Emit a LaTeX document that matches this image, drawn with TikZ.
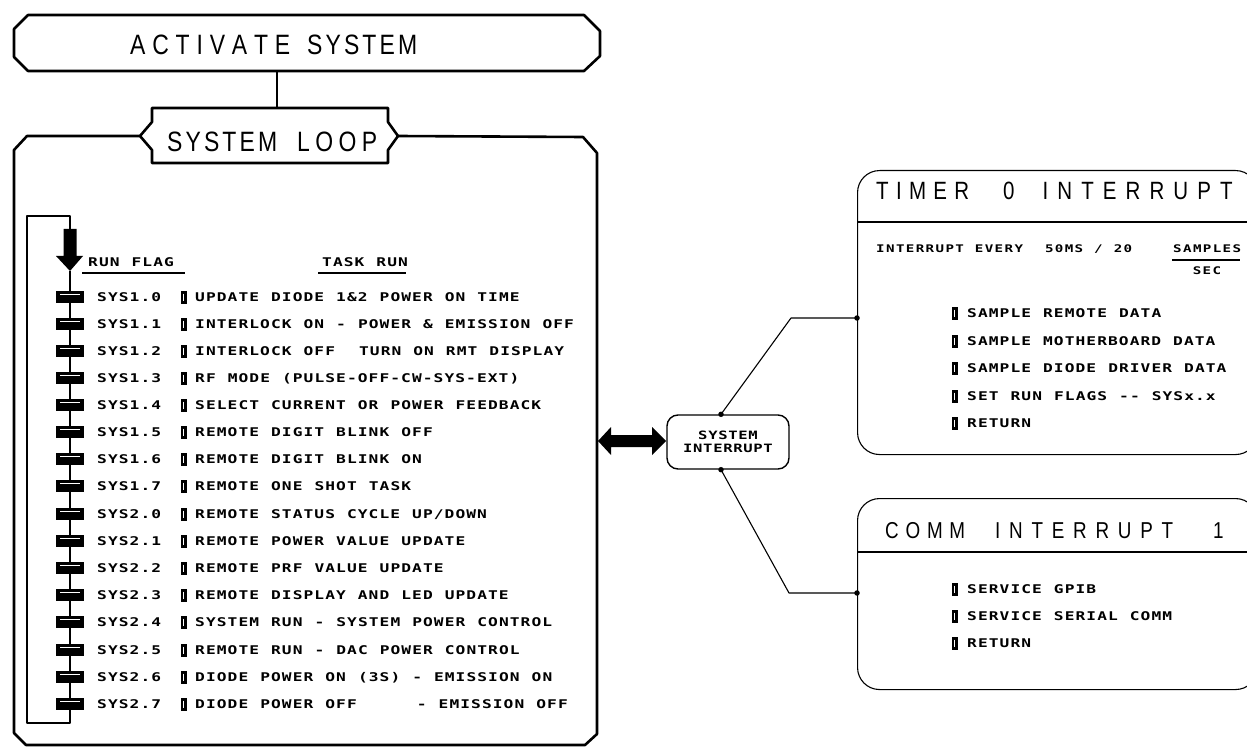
\documentclass[tikz,border=0pt]{standalone}
\usepackage{fontspec}
\usetikzlibrary{calc}
% fixed-pitch plotter lettering and narrow title lettering
\newfontfamily\plotfont{DejaVu Sans Mono}[FakeStretch=1.35,LetterSpace=9,WordSpace=1.11]
\newfontfamily\titlefont{Liberation Sans}[FakeStretch=0.82]

% a word whose letters are spread evenly over a given width
\makeatletter
\def\spr@a#1#2\spr@end{#1\ifx\relax#2\relax\else\hfill\spr@a#2\spr@end\fi}
\newcommand\spreadword[2]{\makebox[#1][s]{\spr@a#2\spr@end}}
\makeatother

\tikzset{
  heavy/.style={line width=2.6pt, line join=round},
  thinline/.style={line width=1.1pt, line join=round},
  flagbox/.style={rectangle, fill=black, minimum width=28pt, minimum height=12pt, inner sep=0pt,
    path picture={\draw[white, line width=0.4pt]
      ([xshift=4pt,yshift=-3pt]path picture bounding box.north west) --
      ([xshift=-4pt,yshift=-3pt]path picture bounding box.north east);}},
  tickbar/.style={rectangle, fill=black, minimum width=6pt, minimum height=13pt, inner sep=0pt,
    path picture={\draw[white, line width=0.5pt]
      ([xshift=-0.6pt,yshift=-3pt]path picture bounding box.north) --
      ([xshift=-0.6pt,yshift=3pt]path picture bounding box.south);}},
  body/.style={inner sep=0pt, anchor=base west, font={\plotfont\bfseries\fontsize{12pt}{14pt}\selectfont}},
  small/.style={inner sep=0pt, anchor=base west, font={\plotfont\bfseries\fontsize{10.5pt}{12pt}\addfontfeatures{LetterSpace=13}\selectfont}},
  title/.style={inner sep=0pt, anchor=base west},
  dot/.style={circle, fill=black, inner sep=0pt, minimum size=5.5pt},
}

% one row of the run-flag table
\newcommand\flagrow[4]{%
  \node[flagbox] (flag#1) at (70,#2) {};
  \node[body] (sys#1) at (97,#2+4.5) {#3};
  \node[tickbar] (tick#1) at (184,#2) {};
  \node[body] (task#1) at (195,#2+4.5) {#4};
}
% one bulleted entry inside an interrupt box
\newcommand\isritem[3]{%
  \node[tickbar] (tick#1) at (955,#2) {};
  \node[body] (item#1) at (967,#2+4.5) {#3};
}

\begin{document}
\begin{tikzpicture}[x=1pt,y=-1pt]
\useasboundingbox[fill=white] (0,0) rectangle (1247,751);

% ---- ACTIVATE SYSTEM terminal ----
\draw[heavy] (28,15) -- (584,15) -- (600,31) -- (600,56) -- (584,71) -- (28,71) -- (14,57) -- (14,29) -- cycle;
\node[title, font={\titlefont\fontsize{28pt}{30pt}\selectfont}] (act) at (130,55)
  {\spreadword{160pt}{ACTIVATE}\hspace{17pt}\spreadword{110pt}{SYSTEM}};
\coordinate (actbottom) at (277,71);

% ---- SYSTEM LOOP header ----
\draw[heavy] (152,108) -- (388,108) -- (388,122) -- (398,136) -- (388,150) -- (388,163)
  -- (152,163) -- (152,150) -- (140,136) -- (152,122) -- cycle;
\node[title, font={\titlefont\fontsize{28pt}{30pt}\selectfont}] (loop) at (167,152)
  {\spreadword{110pt}{SYSTEM}\hspace{20pt}\spreadword{80pt}{LOOP}};
\coordinate (looptop) at (277,108);
\draw[thinline] (actbottom) -- (looptop);

% ---- loop container ----
\draw[heavy] (140,136) -- (27,136) -- (14,150) -- (14,733) -- (26,745) -- (585,745) -- (597,734)
  -- (597,153) -- (583,137) -- (398,136);

% ---- loop-back line and entry arrow ----
\coordinate (arrowtail) at (70,230);
\coordinate (arrowtip) at (70,271);
\coordinate (loopbottom) at (70,723);
\draw[thinline] (arrowtail) -- (70,216) -- (27,216) -- (27,723) -- (loopbottom) -- (arrowtip);
\fill (63.5,229) -- (76.5,229) -- (76.5,256) -- (83,256) -- (arrowtip) -- (56,256) -- (63.5,256) -- cycle;

% ---- table headings ----
\node[body] (runflag) at (88,267) {RUN FLAG};
\draw[line width=1.4pt] (82,273) -- (185,273);
\node[body] (taskrun) at (322,267) {TASK RUN};
\draw[line width=1.4pt] (318,273) -- (406,273);

% ---- run flags and tasks ----
\flagrow{a}{297}{SYS1.0}{UPDATE DIODE 1\&2 POWER ON TIME}
\flagrow{b}{324}{SYS1.1}{INTERLOCK ON - POWER \& EMISSION OFF}
\flagrow{c}{351}{SYS1.2}{INTERLOCK OFF~ TURN ON RMT DISPLAY}
\flagrow{d}{378}{SYS1.3}{RF MODE (PULSE-OFF-CW-SYS-EXT)}
\flagrow{e}{405}{SYS1.4}{SELECT CURRENT OR POWER FEEDBACK}
\flagrow{f}{432}{SYS1.5}{REMOTE DIGIT BLINK OFF}
\flagrow{g}{459}{SYS1.6}{REMOTE DIGIT BLINK ON}
\flagrow{h}{486}{SYS1.7}{REMOTE ONE SHOT TASK}
\flagrow{i}{514}{SYS2.0}{REMOTE STATUS CYCLE UP/DOWN}
\flagrow{j}{541}{SYS2.1}{REMOTE POWER VALUE UPDATE}
\flagrow{k}{568}{SYS2.2}{REMOTE PRF VALUE UPDATE}
\flagrow{l}{595}{SYS2.3}{REMOTE DISPLAY AND LED UPDATE}
\flagrow{m}{622}{SYS2.4}{SYSTEM RUN - SYSTEM POWER CONTROL}
\flagrow{n}{650}{SYS2.5}{REMOTE RUN - DAC POWER CONTROL}
\flagrow{o}{677}{SYS2.6}{DIODE POWER ON (3S) - EMISSION ON}
\flagrow{p}{704}{SYS2.7}{DIODE POWER OFF~~~~~- EMISSION OFF}

% ---- system interrupt ----
\node[draw, line width=1.4pt, rounded corners=11pt, minimum width=122pt, minimum height=54pt,
      align=center, inner sep=0pt, font={\plotfont\bfseries\fontsize{11.5pt}{13.5pt}\addfontfeatures{LetterSpace=6}\selectfont}]
      (sysint) at (728,442) {SYSTEM\\INTERRUPT};
\fill (598,441) -- (611,427) -- (611,435) -- (652,435) -- (652,427) -- (666,441)
  -- (652,455) -- (652,447) -- (611,447) -- (611,455) -- cycle;

% ---- timer 0 interrupt ----
\node[draw, thinline, rounded corners=22pt, minimum width=400pt, minimum height=284pt,
      anchor=north west, inner sep=0pt] (timerbox) at (857,170) {};
\draw[thinline] ([yshift=-52pt]timerbox.north west) -- ([yshift=-52pt]timerbox.north east);
\node[title, font={\titlefont\fontsize{25pt}{28pt}\selectfont}] (timer) at (876,200)
  {\spreadword{93pt}{TIMER}\hspace{34pt}0\hspace{28pt}\spreadword{190pt}{INTERRUPT}};
\node[small] (every) at (876,253) {INTERRUPT EVERY~ 50MS / 20};
\node[small] (samples) at (1173,253) {SAMPLES};
\draw[line width=1.2pt] (1172,260) -- (1240,260);
\node[small, anchor=base] (sec) at (1207,275) {SEC};
\isritem{ta}{313}{SAMPLE REMOTE DATA}
\isritem{tb}{341}{SAMPLE MOTHERBOARD DATA}
\isritem{tc}{368}{SAMPLE DIODE DRIVER DATA}
\isritem{td}{396}{SET RUN FLAGS -{}- SYSx.x}
\isritem{te}{423}{RETURN}

% ---- comm interrupt 1 ----
\node[draw, thinline, rounded corners=22pt, minimum width=400pt, minimum height=191pt,
      anchor=north west, inner sep=0pt] (commbox) at (857,498) {};
\draw[thinline] ([yshift=-54pt]commbox.north west) -- ([yshift=-54pt]commbox.north east);
\node[title, font={\titlefont\fontsize{23pt}{25pt}\selectfont}] (comm) at (885,538)
  {\spreadword{80pt}{COMM}\hspace{30pt}\spreadword{178pt}{INTERRUPT}\hspace{40pt}1};
\isritem{ca}{589}{SERVICE GPIB}
\isritem{cb}{616}{SERVICE SERIAL COMM}
\isritem{cc}{643}{RETURN}

% ---- connectors from system interrupt ----
\coordinate (tin) at ([yshift=-148pt]timerbox.north west);
\coordinate (cin) at ([yshift=-95pt]commbox.north west);
\draw[thinline] ([xshift=-7pt]sysint.north) -- (791,318) -- (tin);
\draw[thinline] ([xshift=-7pt]sysint.south) -- (789,593) -- (cin);
\node[dot] at ([xshift=-7pt]sysint.north) {};
\node[dot] at ([xshift=-7pt]sysint.south) {};
\node[dot] at (tin) {};
\node[dot] at (cin) {};
\end{tikzpicture}
\end{document}
